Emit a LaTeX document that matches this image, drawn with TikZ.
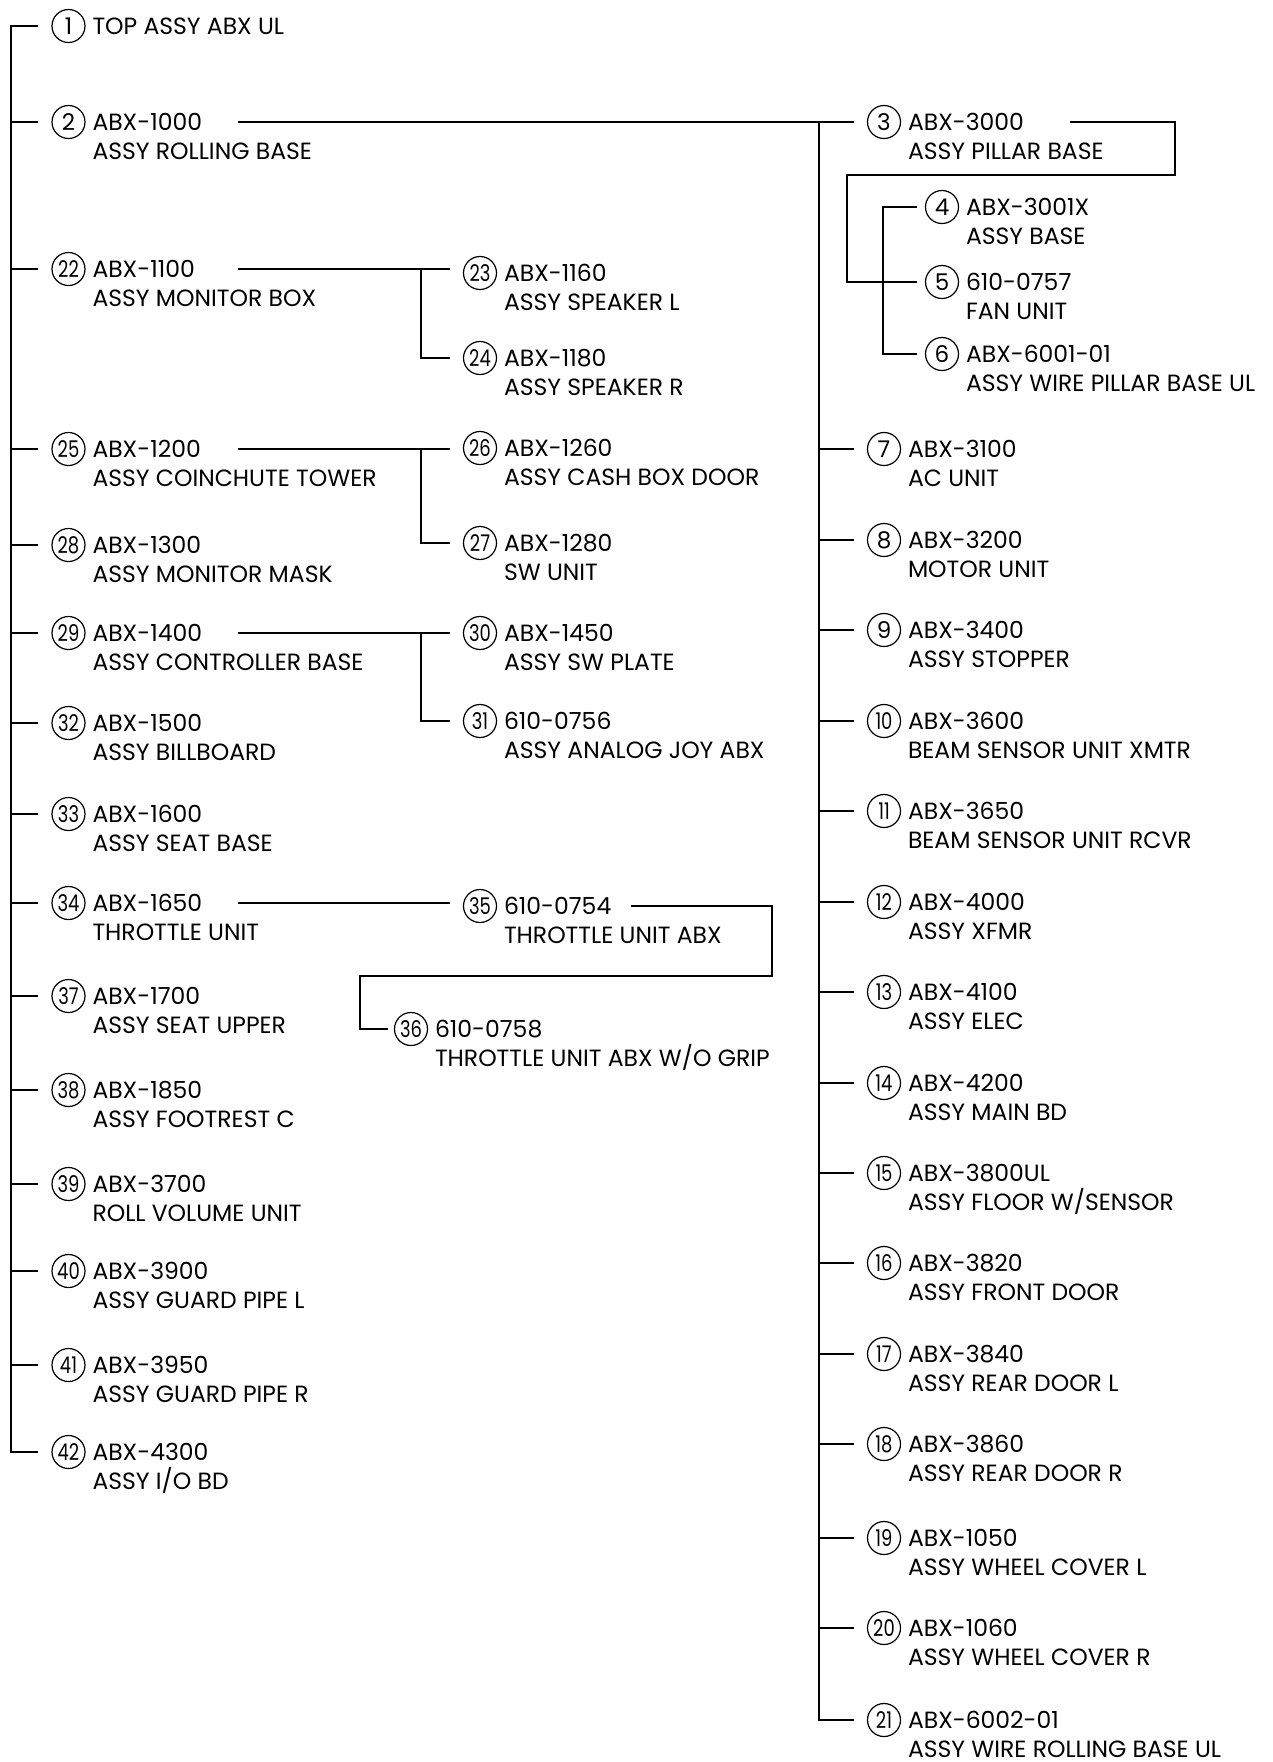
\documentclass[tikz,border=0pt]{standalone}
\usepackage{fontspec}
\setmainfont{Poppins}
\usepackage{graphicx}
\newcommand\bomitem[6]{%
  \node[num] (c#1) at (#2,#3) {#4};
  \node[txt] (t#1) at (#2+23,#3+8.5) {#5};
  \node[txt] (u#1) at (#2+23,#3+37) {#6};
  \coordinate (e#1) at ([xshift=-13]c#1.west);
}
\newcommand\tw[1]{\scalebox{0.78}[1]{#1}}
\begin{document}
\begin{tikzpicture}[x=1pt,y=-1pt,line width=2pt,
  num/.style={circle,draw,line width=1.2pt,minimum size=33pt,inner sep=0pt,font=\fontsize{23}{23}\selectfont},
  txt/.style={anchor=base west,inner sep=0pt,font=\fontsize{23.5}{28}\selectfont},
  conn/.style={line width=2pt}]
\useasboundingbox (0,0) rectangle (1272,1762);
% left column
\node[num] (c1) at (68.5,26) {1};
\node[txt] (t1) at (91.5,34.5) {TOP ASSY ABX UL};
\coordinate (e1) at ([xshift=-13]c1.west);
\bomitem{2}{68.5}{122}{2}{ABX-1000}{ASSY ROLLING BASE}
\bomitem{22}{68.5}{269}{\tw{22}}{ABX-1100}{ASSY MONITOR BOX}
\bomitem{25}{68.5}{449}{\tw{25}}{ABX-1200}{ASSY COINCHUTE TOWER}
\bomitem{28}{68.5}{545}{\tw{28}}{ABX-1300}{ASSY MONITOR MASK}
\bomitem{29}{68.5}{633}{\tw{29}}{ABX-1400}{ASSY CONTROLLER BASE}
\bomitem{32}{68.5}{723}{\tw{32}}{ABX-1500}{ASSY BILLBOARD}
\bomitem{33}{68.5}{814}{\tw{33}}{ABX-1600}{ASSY SEAT BASE}
\bomitem{34}{68.5}{903}{\tw{34}}{ABX-1650}{THROTTLE UNIT}
\bomitem{37}{68.5}{996}{\tw{37}}{ABX-1700}{ASSY SEAT UPPER}
\bomitem{38}{68.5}{1090}{\tw{38}}{ABX-1850}{ASSY FOOTREST C}
\bomitem{39}{68.5}{1184}{\tw{39}}{ABX-3700}{ROLL VOLUME UNIT}
\bomitem{40}{68.5}{1271}{\tw{40}}{ABX-3900}{ASSY GUARD PIPE L}
\bomitem{41}{68.5}{1365}{\tw{41}}{ABX-3950}{ASSY GUARD PIPE R}
\bomitem{42}{68.5}{1452}{\tw{42}}{ABX-4300}{ASSY I/O BD}
% middle column
\bomitem{23}{480}{273}{\tw{23}}{ABX-1160}{ASSY SPEAKER L}
\bomitem{24}{480}{358}{\tw{24}}{ABX-1180}{ASSY SPEAKER R}
\bomitem{26}{480}{448}{\tw{26}}{ABX-1260}{ASSY CASH BOX DOOR}
\bomitem{27}{480}{543}{\tw{27}}{ABX-1280}{SW UNIT}
\bomitem{30}{480}{633}{\tw{30}}{ABX-1450}{ASSY SW PLATE}
\bomitem{31}{480}{721}{\tw{31}}{610-0756}{ASSY ANALOG JOY ABX}
\bomitem{35}{480}{906}{\tw{35}}{610-0754}{THROTTLE UNIT ABX}
\bomitem{36}{411}{1029}{\tw{36}}{610-0758}{THROTTLE UNIT ABX W/O GRIP}
% right column
\bomitem{3}{884}{122}{3}{ABX-3000}{ASSY PILLAR BASE}
\bomitem{7}{884}{449}{7}{ABX-3100}{AC UNIT}
\bomitem{8}{884}{540}{8}{ABX-3200}{MOTOR UNIT}
\bomitem{9}{884}{630}{9}{ABX-3400}{ASSY STOPPER}
\bomitem{10}{884}{721}{\tw{10}}{ABX-3600}{BEAM SENSOR UNIT XMTR}
\bomitem{11}{884}{811}{\tw{11}}{ABX-3650}{BEAM SENSOR UNIT RCVR}
\bomitem{12}{884}{902}{\tw{12}}{ABX-4000}{ASSY XFMR}
\bomitem{13}{884}{992}{\tw{13}}{ABX-4100}{ASSY ELEC}
\bomitem{14}{884}{1083}{\tw{14}}{ABX-4200}{ASSY MAIN BD}
\bomitem{15}{884}{1173}{\tw{15}}{ABX-3800UL}{ASSY FLOOR W/SENSOR}
\bomitem{16}{884}{1263}{\tw{16}}{ABX-3820}{ASSY FRONT DOOR}
\bomitem{17}{884}{1354}{\tw{17}}{ABX-3840}{ASSY REAR DOOR L}
\bomitem{18}{884}{1444}{\tw{18}}{ABX-3860}{ASSY REAR DOOR R}
\bomitem{19}{884}{1538}{\tw{19}}{ABX-1050}{ASSY WHEEL COVER L}
\bomitem{20}{884}{1628}{\tw{20}}{ABX-1060}{ASSY WHEEL COVER R}
\bomitem{21}{884}{1720}{\tw{21}}{ABX-6002-01}{ASSY WIRE ROLLING BASE UL}
% sub items of 3
\bomitem{4}{942}{207}{4}{ABX-3001X}{ASSY BASE}
\bomitem{5}{942}{282}{5}{610-0757}{FAN UNIT}
\bomitem{6}{942}{354}{6}{ABX-6001-01}{ASSY WIRE PILLAR BASE UL}
\coordinate (e4) at ([xshift=-8]c4.west);
\coordinate (e5) at ([xshift=-8]c5.west);
\coordinate (e6) at ([xshift=-8]c6.west);
\coordinate (e36) at ([xshift=-6]c36.west);
% helper coordinates
\coordinate (lt) at (11,0);
\coordinate (rt) at (819,0);
\coordinate (jL) at (238,0);
\coordinate (mv) at (421,0);
\coordinate (sv) at (883,0);
\coordinate (k1) at (1070,0);
\coordinate (k2) at (1175,175);
\coordinate (k3) at (847,175);
\coordinate (z1) at (631,0);
\coordinate (z2) at (772,976);
\coordinate (z3) at (360,976);
% left trunk
\draw[conn] (e1) -- (lt |- c1) -- (lt |- c42) -- (e42);
\foreach \n in {2,22,25,28,29,32,33,34,37,38,39,40,41}
  \draw[conn] (lt |- c\n) -- (e\n);
% right trunk
\draw[conn] (jL |- c2) -- (e3);
\draw[conn] (rt |- c2) -- (rt |- c21) -- (e21);
\foreach \n in {7,8,9,10,11,12,13,14,15,16,17,18,19,20}
  \draw[conn] (rt |- c\n) -- (e\n);
% sub tree of 3
\draw[conn] (k1 |- c3) -- (k2 |- c3) -- (k2) -- (k3) -- (k3 |- c5) -- (e5);
\draw[conn] (e4) -- (sv |- c4) -- (sv |- c6) -- (e6);
% middle branches
\draw[conn] (jL |- c22) -- (e23 |- c22);
\draw[conn] (mv |- c22) -- (mv |- c24) -- (e24);
\draw[conn] (jL |- c25) -- (e26 |- c25);
\draw[conn] (mv |- c25) -- (mv |- c27) -- (e27);
\draw[conn] (jL |- c29) -- (e30 |- c29);
\draw[conn] (mv |- c29) -- (mv |- c31) -- (e31);
\draw[conn] (jL |- c34) -- (e35 |- c34);
\draw[conn] (z1 |- c35) -- (z2 |- c35) -- (z2) -- (z3) -- (z3 |- c36) -- (e36);
\end{tikzpicture}
\end{document}
